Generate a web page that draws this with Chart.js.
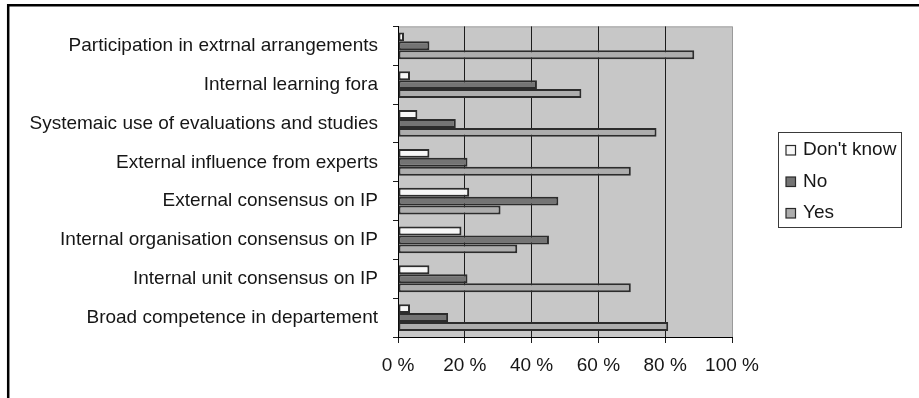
<!DOCTYPE html>
<html>
<head>
<meta charset="utf-8">
<script src="https://cdn.jsdelivr.net/npm/chart.js@4/dist/chart.umd.min.js"></script>
<style>
  html, body { margin: 0; padding: 0; background: #ffffff; }
  #wrap { width: 919px; height: 398px; }
</style>
</head>
<body>
<div id="wrap"><canvas id="c" width="919" height="398"></canvas></div>
<script>
// Survey categories (top to bottom)
const categories = [
  "Participation in extrnal arrangements",
  "Internal learning fora",
  "Systemaic use of evaluations and studies",
  "External influence from experts",
  "External consensus on IP",
  "Internal organisation consensus on IP",
  "Internal unit consensus on IP",
  "Broad competence in departement"
];

// Share of answers, percent
const dontKnow = [1.8, 3.6, 5.8, 9.4, 21.3, 19.0, 9.4, 3.6];
const no       = [9.4, 41.6, 17.3, 20.8, 48.0, 45.2, 20.8, 15.0];
const yes      = [88.7, 54.9, 77.4, 69.7, 30.7, 35.7, 69.7, 80.9];

const seriesNames = ["Don't know", "No", "Yes"];
const xTicks = [0, 20, 40, 60, 80, 100];

const FONT = "'Liberation Sans', Arial, sans-serif";
const TEXT = "#161616";
const fills = ["#f7f7f7", "#747474", "#adadad"];

// Plot background, frame lines and the boxed legend
const decor = {
  id: "decor",
  beforeDraw(chart) {
    const { ctx, chartArea: a } = chart;
    ctx.save();
    ctx.fillStyle = "#c7c7c7";
    ctx.fillRect(a.left, a.top, a.right - a.left, a.bottom - a.top);
    ctx.strokeStyle = "#a2a2a2";
    ctx.lineWidth = 1;
    ctx.beginPath();
    ctx.moveTo(a.left, a.top + 0.5);
    ctx.lineTo(a.right, a.top + 0.5);
    ctx.stroke();
    // outer frame: top and left edges
    ctx.strokeStyle = "#000";
    ctx.lineWidth = 2.5;
    ctx.beginPath();
    ctx.moveTo(919, 5.2);
    ctx.lineTo(8.2, 5.2);
    ctx.lineTo(8.2, 398);
    ctx.stroke();
    ctx.restore();
  },
  afterDraw(chart) {
    const { ctx } = chart;
    ctx.save();
    ctx.strokeStyle = "#3a3a3a";
    ctx.lineWidth = 1;
    ctx.strokeRect(778.5, 132.5, 123, 95);
    ctx.font = "19px " + FONT;
    ctx.textBaseline = "alphabetic";
    ctx.textAlign = "left";
    const baselines = [155, 186.5, 218];
    chart.data.datasets.forEach((ds, i) => {
      const yb = baselines[i];
      ctx.fillStyle = ds.backgroundColor;
      ctx.fillRect(786, yb - 9.5, 9.5, 9.5);
      ctx.strokeStyle = "#2a2a2a";
      ctx.lineWidth = 1.2;
      ctx.strokeRect(786, yb - 9.5, 9.5, 9.5);
      ctx.fillStyle = TEXT;
      ctx.fillText(ds.label, 803, yb);
    });
    ctx.restore();
  }
};

const mk = (label, data, i) => ({
  label,
  data,
  backgroundColor: fills[i],
  borderColor: "#2c2c2c",
  borderWidth: 2,
  borderSkipped: false,
  categoryPercentage: 0.69,
  barPercentage: 1.0
});

new Chart(document.getElementById("c"), {
  type: "bar",
  data: {
    labels: categories,
    datasets: [
      mk(seriesNames[0], dontKnow, 0),
      mk(seriesNames[1], no, 1),
      mk(seriesNames[2], yes, 2)
    ]
  },
  options: {
    indexAxis: "y",
    responsive: false,
    animation: false,
    devicePixelRatio: 1,
    layout: { padding: { left: 0, right: 187, top: 22, bottom: 0 } },
    plugins: {
      legend: { display: false },
      tooltip: { enabled: false }
    },
    scales: {
      x: {
        min: 0,
        max: 100,
        afterBuildTicks(scale) {
          scale.ticks = xTicks.map(v => ({ value: v }));
        },
        afterFit(scale) { scale.height = 61; },
        grid: {
          color: ctx => (ctx.tick && ctx.tick.value === 100) ? "#9a9a9a" : "#1c1c1c",
          tickColor: "#1c1c1c",
          lineWidth: 1,
          tickLength: 6
        },
        border: { display: true, color: "#000", width: 1 },
        ticks: {
          color: TEXT,
          font: { family: FONT, size: 19 },
          padding: 11,
          maxRotation: 0,
          callback: v => v + " %"
        }
      },
      y: {
        afterFit(scale) { scale.width = 398; },
        grid: {
          drawOnChartArea: false,
          color: "#1c1c1c",
          tickLength: 5,
          offset: true
        },
        border: { display: true, color: "#000", width: 1 },
        ticks: {
          color: TEXT,
          font: { family: FONT, size: 19 },
          padding: 15,
          autoSkip: false
        }
      }
    }
  },
  plugins: [decor]
});
</script>
</body>
</html>
